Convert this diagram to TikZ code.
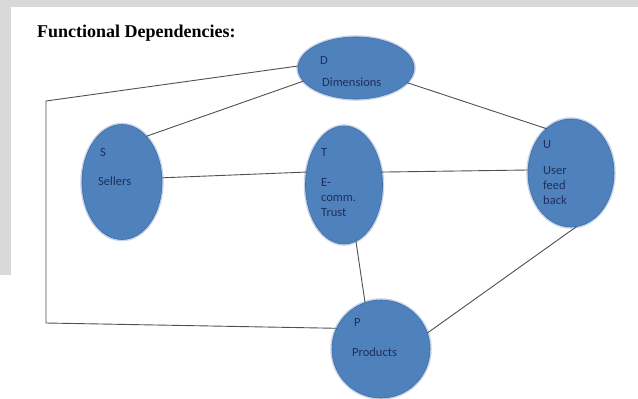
\documentclass[tikz,border=0pt]{standalone}
\usepackage{fontspec}
\setmainfont{Liberation Serif}
\newfontfamily\calfont{Carlito}
\usetikzlibrary{shapes.geometric}
\definecolor{entblue}{HTML}{4F81BD}
\definecolor{entedge}{HTML}{3E6CA6}
\definecolor{enthalo}{HTML}{C6D4E8}
\definecolor{enttext}{HTML}{1F2F5C}
\definecolor{linkgray}{HTML}{505050}
\definecolor{pagegray}{HTML}{D9D9D9}
\begin{document}
\begin{tikzpicture}[x=1pt, y=-1pt,
                    ent/.style={ellipse, fill=entblue, draw=entedge, line width=0.6pt,
                                inner sep=0pt, outer sep=0pt,
                                preaction={draw=enthalo, line width=3.5pt}},
                    lbl/.style={anchor=west, inner sep=0pt, text=enttext, align=left,
                                font=\calfont\fontsize{12.5}{15}\selectfont},
                    link/.style={draw=linkgray, line width=0.9pt},
                ]
                \useasboundingbox (0,0) rectangle (638,399);
                \fill[white] (0,0) rectangle (638,399);
                \fill[pagegray] (0,0) rectangle (638,7);
                \fill[pagegray] (0,7) rectangle (11,275);
                \node[anchor=west, inner sep=0pt, font=\bfseries\fontsize{18}{20}\selectfont] (title) at (37,33) {Functional Dependencies:};
                % entities
                \node[ent, minimum width=116pt, minimum height=62pt] (dim) at (356,68) {};
                \node[ent, minimum width=80pt, minimum height=115pt] (sel) at (122,182) {};
                \node[ent, minimum width=77pt, minimum height=118pt] (ecom) at (344,185) {};
                \node[ent, minimum width=86pt, minimum height=108pt] (usr) at (571,173) {};
                \node[ent, minimum width=98pt, minimum height=98pt] (prd) at (381,349) {};
                % labels
                \node[lbl] (dlet) at (320,60) {D};
                \node[lbl] (dname) at (322,82) {Dimensions};
                \node[lbl] (slet) at (100,152) {S};
                \node[lbl] (sname) at (98,181) {Sellers};
                \node[lbl] (tlet) at (321,152) {T};
                \node[lbl] (tname) at (321,198) {E-\\comm.\\Trust};
                \node[lbl] (ulet) at (543,145) {U};
                \node[lbl] (uname) at (543,186) {User\\feed\\back};
                \node[lbl] (plet) at (354,322) {P};
                \node[lbl] (pname) at (352,352) {Products};
                % dependencies
                \coordinate (fr1) at (46,101);
                \coordinate (fr2) at (46,323);
                \draw[link] (dim.178) -- (fr1) -- (fr2) -- (prd.155);
                \draw[link] (dim.194) -- (sel.62);
                \draw[link] (dim.-16) -- (usr.119);
                \draw[link] (sel.6) -- (ecom.161);
                \draw[link] (ecom.19) -- (usr.176);
                \draw[link] (ecom.-78) -- (prd.109);
                \draw[link] (usr.-84) -- (prd.19);
                \end{tikzpicture}
\end{document}
